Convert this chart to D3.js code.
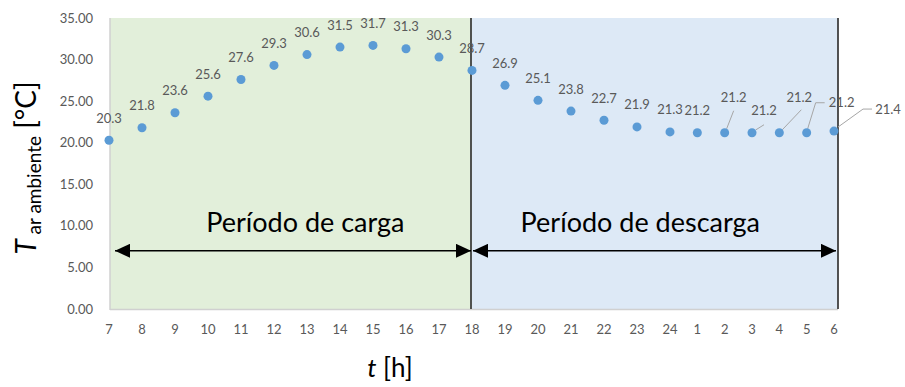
<!DOCTYPE html>
<html><head><meta charset="utf-8">
<script src="https://cdn.jsdelivr.net/npm/d3@7"></script>
<style>body{margin:0;background:#fff}svg{display:block}</style>
</head><body>
<svg id="c" width="905" height="387"></svg>
<script>
// ---- data ----
const hours = ["7","8","9","10","11","12","13","14","15","16","17","18","19","20","21","22","23","24","1","2","3","4","5","6"];
const temps = [20.3,21.8,23.6,25.6,27.6,29.3,30.6,31.5,31.7,31.3,30.3,28.7,26.9,25.1,23.8,22.7,21.9,21.3,21.2,21.2,21.2,21.2,21.2,21.4];
const yTicks = [0,5,10,15,20,25,30,35];
const periodNames = ["Período de carga","Período de descarga"];
const periodStart = ["7","18"];
const periodEnd = ["18","6"];
const arrowLevel = 7;

// ---- layout / style ----
const FONT = "Lato, 'Open Sans', sans-serif";
const svg = d3.select("#c");
const idx = d3.scaleLinear().domain([0,17,23]).range([109,670,834]);
const x = h => idx(hours.indexOf(h));
const y = d3.scaleLinear().domain([0,35]).range([309,18]);
const plotLeft = 110, plotRight = 838;
const periodFill = ["#e2efda","#dde9f6"];
const periodLabelAt = [5.95, 16.1];
// label offsets (dx, dy of text centre) & leader polylines relative to the dot
const labelOff = {19:[9,-35],20:[12,-22],21:[20,-35],22:[35,-30],23:[54,-22]};
const leaders = {
  19:[[2,-4],[9,-22]],
  20:[[4,-3],[12,-8]],
  21:[[3,-3],[22,-23]],
  22:[[1,-4],[9,-30],[18,-30]],
  23:[[4,-4],[29,-22],[38,-22]]
};

// period backgrounds
periodNames.forEach((n,i)=>{
  const x0 = i===0 ? plotLeft : x(periodStart[i]);
  const x1 = i===1 ? plotRight : x(periodEnd[i]);
  svg.append("rect").attr("x",x0).attr("y",y(35)).attr("width",x1-x0).attr("height",y(0)-y(35))
    .attr("fill",periodFill[i]);
});

// axes lines
svg.append("line").attr("x1",plotLeft).attr("x2",plotLeft).attr("y1",y(35)).attr("y2",y(0)+1)
  .attr("stroke","#d0d0d0").attr("stroke-width",1.5);
svg.append("line").attr("x1",plotLeft).attr("x2",plotRight).attr("y1",y(0)+0.5).attr("y2",y(0)+0.5)
  .attr("stroke","#d0d0d0").attr("stroke-width",1.5);

// separators
[x("18")-1, plotRight].forEach(xx=>{
  svg.append("line").attr("x1",xx).attr("x2",xx).attr("y1",y(35)).attr("y2",y(0))
    .attr("stroke","#404040").attr("stroke-width",1.8);
});

// y tick labels
svg.append("g").selectAll("text").data(yTicks).join("text")
  .attr("x",93).attr("y",d=>y(d)).attr("dy","0.35em").attr("text-anchor","end")
  .attr("font-family",FONT).attr("font-size",13).attr("fill","#595959")
  .text(d=>d3.format(".2f")(d));

// x tick labels
svg.append("g").selectAll("text").data(hours).join("text")
  .attr("x",d=>x(d)).attr("y",329).attr("dy","0.35em").attr("text-anchor","middle")
  .attr("font-family",FONT).attr("font-size",13).attr("fill","#595959")
  .text(d=>d);

// arrows
const defs = svg.append("defs");
defs.append("marker").attr("id","ah").attr("viewBox","0 0 15 14").attr("refX",15).attr("refY",7)
  .attr("markerWidth",15).attr("markerHeight",14).attr("markerUnits","userSpaceOnUse")
  .attr("orient","auto-start-reverse")
  .append("path").attr("d","M0,0L15,7L0,14Z").attr("fill","#000");
const arrowEnds = [[x("7")+6, x("18")-1],[x("18")+1, x("6")+2]];
arrowEnds.forEach(([a,b])=>{
  svg.append("line").attr("x1",a).attr("x2",b).attr("y1",y(arrowLevel)).attr("y2",y(arrowLevel))
    .attr("stroke","#000").attr("stroke-width",1.5)
    .attr("marker-start","url(#ah)").attr("marker-end","url(#ah)");
});
periodNames.forEach((n,i)=>{
  svg.append("text").attr("x",idx(periodLabelAt[i])).attr("y",232).attr("text-anchor","middle")
    .attr("font-family",FONT).attr("font-size",27).attr("fill","#000").text(n);
});

// leader lines
Object.entries(leaders).forEach(([i,pts])=>{
  const h = hours[+i], cx = x(h), cy = y(temps[+i]);
  svg.append("path").attr("d", d3.line()(pts.map(p=>[cx+p[0],cy+p[1]])))
    .attr("fill","none").attr("stroke","#a6a6a6").attr("stroke-width",1);
});

// points
svg.append("g").selectAll("circle").data(temps).join("circle")
  .attr("cx",(d,i)=>x(hours[i])).attr("cy",d=>y(d)).attr("r",4.5).attr("fill","#5b9bd5");

// data labels
svg.append("g").selectAll("text").data(temps).join("text")
  .attr("x",(d,i)=>x(hours[i]) + (labelOff[i]?labelOff[i][0]:0))
  .attr("y",(d,i)=>y(d) + (labelOff[i]?labelOff[i][1]:-22))
  .attr("dy","0.35em").attr("text-anchor","middle")
  .attr("font-family",FONT).attr("font-size",13).attr("fill","#595959")
  .text(d=>d3.format(".1f")(d));

// y axis title
const yt = svg.append("text").attr("transform","translate(36,168) rotate(-90)")
  .attr("text-anchor","middle").attr("font-family",FONT).attr("fill","#000");
yt.append("tspan").attr("font-size",28).attr("font-style","italic").text("T");
yt.append("tspan").attr("font-size",19).attr("dy",5).text(" ar ambiente");
yt.append("tspan").attr("font-size",28).attr("dy",-5).text(" [°C]");

// x axis title
const xt = svg.append("text").attr("x",390).attr("y",377).attr("text-anchor","middle")
  .attr("font-family",FONT).attr("font-size",26).attr("fill","#000");
xt.append("tspan").attr("font-style","italic").text("t");
xt.append("tspan").text(" [h]");
</script>
</body></html>
